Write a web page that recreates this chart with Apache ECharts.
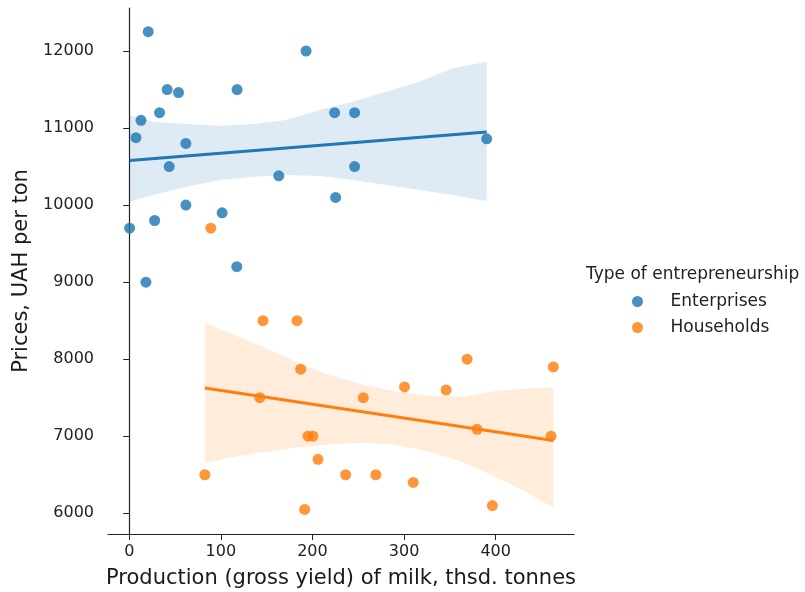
<!DOCTYPE html>
<html>
<head>
<meta charset="utf-8">
<script src="https://cdn.jsdelivr.net/npm/echarts@6/dist/echarts.min.js"></script>
<style>
html,body{margin:0;padding:0;background:#fff;}
#chart{width:805px;height:592px;}
</style>
</head>
<body>
<div id="chart"></div>
<script>
// ---- data ----
const groups = ['Enterprises', 'Households'];
const entX = [20.7, 193, 41.4, 53.8, 117.7, 33.1, 12.8, 224.2, 246, 7.3, 390.2, 61.8, 43.6, 246, 163.2, 225.3, 61.8, 101.4, 27.7, 0.4, 117.4, 18.2];
const entY = [12250, 12000, 11500, 11460, 11500, 11200, 11100, 11200, 11200, 10875, 10860, 10800, 10500, 10500, 10380, 10100, 10000, 9900, 9800, 9700, 9200, 9000];
const houX = [89, 146, 183.1, 368.8, 462.9, 187.1, 300.5, 345.9, 142.5, 255.5, 379.7, 195.1, 200.5, 460.4, 206, 82.5, 236.2, 269.2, 310, 191.5, 396.4];
const houY = [9700, 8500, 8500, 8000, 7900, 7870, 7640, 7600, 7500, 7500, 7090, 7000, 7000, 7000, 6700, 6500, 6500, 6500, 6400, 6050, 6100];

// confidence band edges (bootstrapped band as seen in the picture)
const entBandX  = [0.4, 26, 62.5, 98.9, 135, 171.5, 207.8, 244.1, 280.5, 316.8, 353.1, 390.2];
const entBandUp = [11169, 11082, 11053, 11031, 11053, 11104, 11234, 11342, 11472, 11602, 11775, 11861];
const entBandLo = [10044, 10131, 10239, 10326, 10369, 10391, 10378, 10326, 10261, 10196, 10131, 10053];
const houBandX  = [82.5, 108, 144.3, 180.6, 216.9, 253.2, 289.5, 325.8, 362.2, 398.6, 434.9, 462.9];
const houBandUp = [8472, 8343, 8169, 7974, 7801, 7672, 7585, 7529, 7512, 7585, 7620, 7637];
const houBandLo = [6655, 6720, 6793, 6850, 6893, 6915, 6893, 6806, 6676, 6482, 6266, 6071];

const xTicks = [0, 100, 200, 300, 400];
const yTicks = [6000, 7000, 8000, 9000, 10000, 11000, 12000];
const colors = ['#1f77b4', '#ff7f0e'];

// ---- least-squares line ----
function fitLine(xs, ys) {
  const n = xs.length;
  const mx = xs.reduce((a, b) => a + b, 0) / n;
  const my = ys.reduce((a, b) => a + b, 0) / n;
  let sxx = 0, sxy = 0;
  for (let i = 0; i < n; i++) { sxx += (xs[i] - mx) ** 2; sxy += (xs[i] - mx) * (ys[i] - my); }
  const b = sxy / sxx, a = my - b * mx;
  const lo = Math.min(...xs), hi = Math.max(...xs);
  return [[lo, a + b * lo], [hi, a + b * hi]];
}
function bandPoly(bx, up, lo) {
  const top = bx.map((x, i) => [x, up[i]]);
  const bot = bx.map((x, i) => [x, lo[i]]).reverse();
  return top.concat(bot);
}
const lines = [fitLine(entX, entY), fitLine(houX, houY)];
const polys = [bandPoly(entBandX, entBandUp, entBandLo), bandPoly(houBandX, houBandUp, houBandLo)];
const pts = [entX.map((x, i) => [x, entY[i]]), houX.map((x, i) => [x, houY[i]])];

const font = 'DejaVu Sans';
const series = [];
groups.forEach((g, gi) => {
  series.push({
    name: g, type: 'scatter', data: pts[gi], symbolSize: 11,
    itemStyle: {color: colors[gi], opacity: 0.82}, z: 2
  });
  series.push({
    type: 'custom', silent: true, z: 2, data: [[0, 0]],
    renderItem: function (params, api) {
      const points = polys[gi].map(p => api.coord(p));
      return {type: 'polygon', shape: {points: points}, style: {fill: colors[gi], opacity: 0.15}};
    }
  });
  series.push({
    type: 'line', data: lines[gi], showSymbol: false, silent: true, z: 3,
    lineStyle: {color: colors[gi], width: 3}
  });
});

const chart = echarts.init(document.getElementById('chart'));
chart.setOption({
  animation: false,
  textStyle: {fontFamily: font},
  grid: {left: 108, right: 231, top: 8, bottom: 58, containLabel: false, outerBoundsMode: 'none'},
  xAxis: {
    type: 'value', min: -23.2, max: 485.5,
    name: 'Production (gross yield) of milk, thsd. tonnes',
    nameLocation: 'middle', nameGap: 34,
    nameTextStyle: {fontSize: 21, color: '#1a1a1a', fontFamily: font},
    axisLine: {show: true, lineStyle: {color: '#222', width: 1.2}},
    axisTick: {show: true, length: 6, customValues: xTicks, lineStyle: {color: '#222'}},
    axisLabel: {customValues: xTicks, fontSize: 16, color: '#222', margin: 10, fontFamily: font},
    splitLine: {show: false}
  },
  yAxis: {
    type: 'value', min: 5731, max: 12558,
    name: 'Prices, UAH per ton',
    nameLocation: 'middle', nameGap: 76,
    nameTextStyle: {fontSize: 21, color: '#1a1a1a', fontFamily: font},
    axisLine: {show: true, lineStyle: {color: '#222', width: 1.2}},
    axisTick: {show: true, length: 6, customValues: yTicks, lineStyle: {color: '#222'}},
    axisLabel: {customValues: yTicks, fontSize: 16, color: '#222', margin: 14, fontFamily: font,
      formatter: function (v) { return String(v); }},
    splitLine: {show: false}
  },
  legend: {
    data: groups, orient: 'vertical', left: 627, top: 288,
    itemWidth: 56, itemHeight: 11, itemGap: 9, icon: 'circle',
    textStyle: {fontSize: 17, color: '#222', fontFamily: font}
  },
  graphic: [{
    type: 'text', left: 586, top: 266,
    style: {text: 'Type of entrepreneurship', fontSize: 17, fill: '#222', fontFamily: font}
  }],
  series: series
});
</script>
</body>
</html>
